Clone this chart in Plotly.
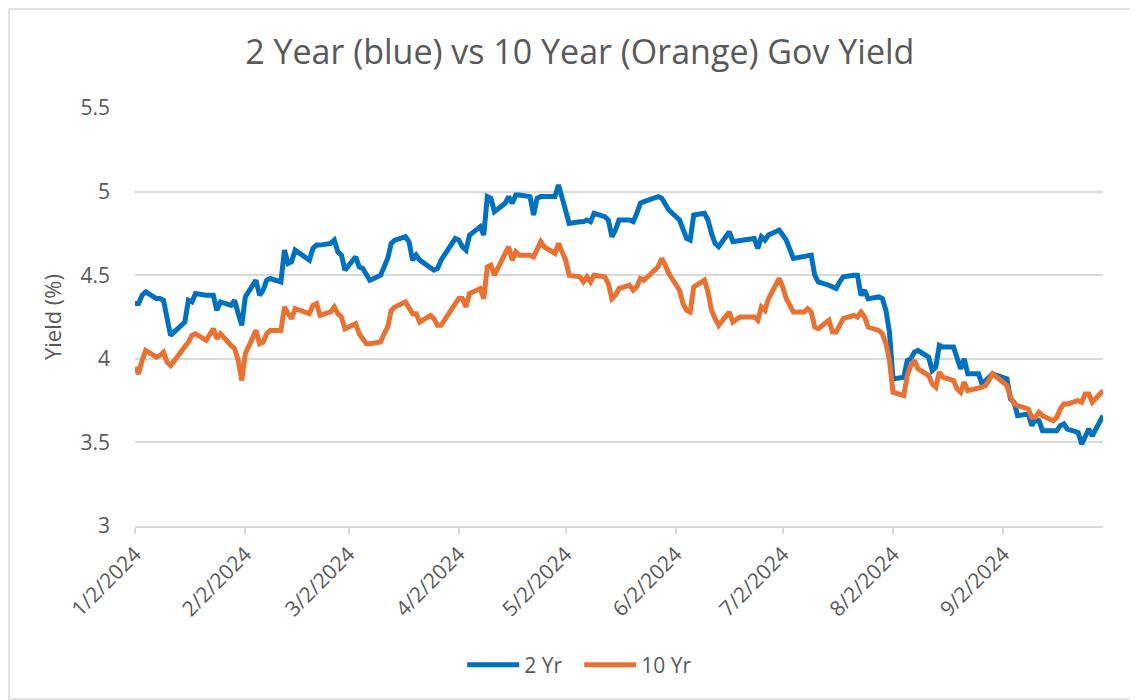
import plotly.graph_objects as go

dates = [
    "2024-01-02","2024-01-03","2024-01-04","2024-01-05","2024-01-08","2024-01-09","2024-01-10","2024-01-11","2024-01-12",
    "2024-01-16","2024-01-17","2024-01-18","2024-01-19","2024-01-22","2024-01-23","2024-01-24","2024-01-25","2024-01-26",
    "2024-01-29","2024-01-30","2024-01-31",
    "2024-02-01","2024-02-02","2024-02-05","2024-02-06","2024-02-07","2024-02-08","2024-02-09","2024-02-12","2024-02-13",
    "2024-02-14","2024-02-15","2024-02-16","2024-02-20","2024-02-21","2024-02-22","2024-02-23","2024-02-26","2024-02-27",
    "2024-02-28","2024-02-29",
    "2024-03-01","2024-03-04","2024-03-05","2024-03-06","2024-03-07","2024-03-08","2024-03-11","2024-03-12","2024-03-13",
    "2024-03-14","2024-03-15","2024-03-18","2024-03-19","2024-03-20","2024-03-21","2024-03-22","2024-03-25","2024-03-26",
    "2024-03-27","2024-03-28",
    "2024-04-01","2024-04-02","2024-04-03","2024-04-04","2024-04-05","2024-04-08","2024-04-09","2024-04-10","2024-04-11",
    "2024-04-12","2024-04-15","2024-04-16","2024-04-17","2024-04-18","2024-04-19","2024-04-22","2024-04-23","2024-04-24",
    "2024-04-25","2024-04-26","2024-04-29","2024-04-30",
    "2024-05-01","2024-05-02","2024-05-03","2024-05-06","2024-05-07","2024-05-08","2024-05-09","2024-05-10","2024-05-13",
    "2024-05-14","2024-05-15","2024-05-16","2024-05-17","2024-05-20","2024-05-21","2024-05-22","2024-05-23","2024-05-24",
    "2024-05-28","2024-05-29","2024-05-30","2024-05-31",
    "2024-06-03","2024-06-04","2024-06-05","2024-06-06","2024-06-07","2024-06-10","2024-06-11","2024-06-12","2024-06-13",
    "2024-06-14","2024-06-17","2024-06-18","2024-06-20","2024-06-21","2024-06-24","2024-06-25","2024-06-26","2024-06-27",
    "2024-06-28",
    "2024-07-01","2024-07-02","2024-07-03","2024-07-05","2024-07-08","2024-07-09","2024-07-10","2024-07-11","2024-07-12",
    "2024-07-15","2024-07-16","2024-07-17","2024-07-18","2024-07-19","2024-07-22","2024-07-23","2024-07-24","2024-07-25",
    "2024-07-26","2024-07-29","2024-07-30","2024-07-31",
    "2024-08-01","2024-08-02","2024-08-05","2024-08-06","2024-08-07","2024-08-08","2024-08-09","2024-08-12","2024-08-13",
    "2024-08-14","2024-08-15","2024-08-16","2024-08-19","2024-08-20","2024-08-21","2024-08-22","2024-08-23","2024-08-26",
    "2024-08-27","2024-08-28","2024-08-29","2024-08-30",
    "2024-09-03","2024-09-04","2024-09-05","2024-09-06","2024-09-09","2024-09-10","2024-09-11","2024-09-12","2024-09-13",
    "2024-09-16","2024-09-17","2024-09-18","2024-09-19","2024-09-20","2024-09-23","2024-09-24","2024-09-25","2024-09-26",
    "2024-09-27","2024-09-30",
]

yield_2yr = [
    4.33,4.33,4.38,4.40,4.36,4.36,4.35,4.25,4.14,
    4.22,4.35,4.34,4.39,4.38,4.38,4.38,4.29,4.34,
    4.32,4.35,4.27,
    4.20,4.37,4.47,4.38,4.41,4.47,4.48,4.46,4.65,
    4.57,4.58,4.65,4.59,4.66,4.68,4.68,4.69,4.71,
    4.64,4.62,
    4.53,4.61,4.55,4.54,4.51,4.47,4.50,4.55,4.60,
    4.69,4.71,4.73,4.70,4.59,4.62,4.59,4.55,4.53,
    4.54,4.59,
    4.72,4.71,4.67,4.65,4.74,4.79,4.74,4.97,4.96,
    4.88,4.93,4.97,4.93,4.98,4.98,4.97,4.86,4.96,
    4.97,4.97,4.97,5.04,
    4.96,4.88,4.81,4.82,4.82,4.83,4.82,4.87,4.85,
    4.83,4.73,4.77,4.83,4.83,4.82,4.87,4.93,4.94,
    4.97,4.96,4.92,4.89,
    4.83,4.77,4.72,4.71,4.86,4.87,4.83,4.75,4.69,
    4.67,4.76,4.70,4.71,4.71,4.72,4.66,4.73,4.71,
    4.74,
    4.77,4.74,4.71,4.60,4.61,4.62,4.62,4.50,4.46,
    4.44,4.43,4.42,4.46,4.49,4.50,4.50,4.38,4.41,
    4.36,4.37,4.36,4.29,
    4.16,3.88,3.89,3.99,4.00,4.04,4.05,4.01,3.93,
    3.95,4.08,4.07,4.07,4.00,3.94,4.00,3.91,3.91,
    3.85,3.87,3.89,3.91,
    3.88,3.76,3.74,3.66,3.67,3.60,3.64,3.63,3.57,
    3.57,3.57,3.60,3.61,3.58,3.56,3.49,3.53,3.58,
    3.54,3.66,
]

yield_10yr = [
    3.95,3.91,3.99,4.05,4.01,4.02,4.04,3.98,3.96,
    4.07,4.10,4.14,4.15,4.11,4.14,4.18,4.12,4.15,
    4.08,4.06,3.99,
    3.87,4.03,4.17,4.09,4.10,4.15,4.17,4.17,4.31,
    4.27,4.24,4.30,4.27,4.32,4.33,4.26,4.28,4.31,
    4.27,4.25,
    4.18,4.21,4.15,4.12,4.09,4.09,4.10,4.15,4.19,
    4.29,4.31,4.34,4.30,4.27,4.27,4.22,4.26,4.24,
    4.20,4.20,
    4.33,4.36,4.36,4.31,4.39,4.42,4.36,4.55,4.56,
    4.50,4.63,4.67,4.59,4.64,4.62,4.62,4.61,4.65,
    4.70,4.67,4.63,4.69,
    4.63,4.59,4.50,4.49,4.46,4.49,4.46,4.50,4.49,
    4.45,4.36,4.38,4.42,4.44,4.41,4.43,4.48,4.47,
    4.55,4.60,4.56,4.51,
    4.41,4.33,4.29,4.28,4.43,4.47,4.40,4.29,4.24,
    4.20,4.28,4.22,4.25,4.25,4.25,4.23,4.31,4.29,
    4.36,
    4.48,4.43,4.36,4.28,4.28,4.30,4.28,4.19,4.18,
    4.23,4.16,4.16,4.20,4.24,4.26,4.25,4.28,4.25,
    4.19,4.17,4.15,4.09,
    3.99,3.80,3.78,3.90,3.96,3.99,3.94,3.90,3.85,
    3.83,3.92,3.89,3.87,3.82,3.80,3.86,3.81,3.82,
    3.83,3.84,3.87,3.91,
    3.84,3.77,3.73,3.72,3.70,3.65,3.65,3.68,3.66,
    3.63,3.65,3.70,3.73,3.73,3.75,3.74,3.79,3.79,
    3.74,3.81,
]

tick_dates = ["2024-01-02","2024-02-02","2024-03-02","2024-04-02","2024-05-02",
              "2024-06-02","2024-07-02","2024-08-02","2024-09-02"]
tick_labels = ["1/2/2024","2/2/2024","3/2/2024","4/2/2024","5/2/2024",
               "6/2/2024","7/2/2024","8/2/2024","9/2/2024"]
y_ticks = [3, 3.5, 4, 4.5, 5, 5.5]
y_tick_labels = ["3", "3.5", "4", "4.5", "5", "5.5"]

FONT = "Open Sans"
GREY = "#595959"

fig = go.Figure()
fig.add_trace(go.Scatter(x=dates, y=yield_2yr, mode="lines", name="2 Yr",
                         line=dict(color="#0070C0", width=5)))
fig.add_trace(go.Scatter(x=dates, y=yield_10yr, mode="lines", name="10 Yr",
                         line=dict(color="#E97132", width=5)))

fig.update_layout(
    width=1130, height=692,
    paper_bgcolor="white", plot_bgcolor="white",
    margin=dict(l=127, r=35, t=100, b=174),
    font=dict(family=FONT, color=GREY, size=21),
    title=dict(text="2 Year (blue) vs 10 Year (Orange) Gov Yield",
               x=0.506, xanchor="center", y=0.936, yanchor="middle",
               font=dict(size=34, color=GREY, family=FONT)),
    showlegend=True,
    legend=dict(orientation="h", x=0.338, xanchor="left", y=-0.3325, yanchor="middle",
                font=dict(size=21, color=GREY), traceorder="normal",
                itemwidth=52, entrywidth=50, entrywidthmode="pixels"),
    xaxis=dict(type="date", range=["2024-01-02", "2024-09-30"],
               tickvals=tick_dates, ticktext=tick_labels, tickangle=-45,
               showgrid=False, showline=True, linecolor="#d9d9d9", linewidth=1.5,
               ticks="outside", ticklen=6, tickcolor="#d9d9d9", tickwidth=1.5,
               tickfont=dict(size=21, color=GREY), zeroline=False),
    yaxis=dict(range=[3, 5.5], tickvals=y_ticks, ticktext=y_tick_labels,
               showgrid=True, gridcolor="#d9d9d9", gridwidth=1.5,
               showline=False, zeroline=False, ticks="",
               tickfont=dict(size=21, color=GREY), ticklabelstandoff=24,
               title=dict(text="Yield (%)", font=dict(size=22, color=GREY), standoff=12)),
    shapes=[dict(type="rect", xref="paper", yref="paper",
                 x0=-0.1302, x1=1.0331, y0=-0.4139, y1=1.2368,
                 line=dict(color="#d9d9d9", width=1.5), fillcolor="rgba(0,0,0,0)",
                 layer="below")],
)

fig.write_html("out.html")
